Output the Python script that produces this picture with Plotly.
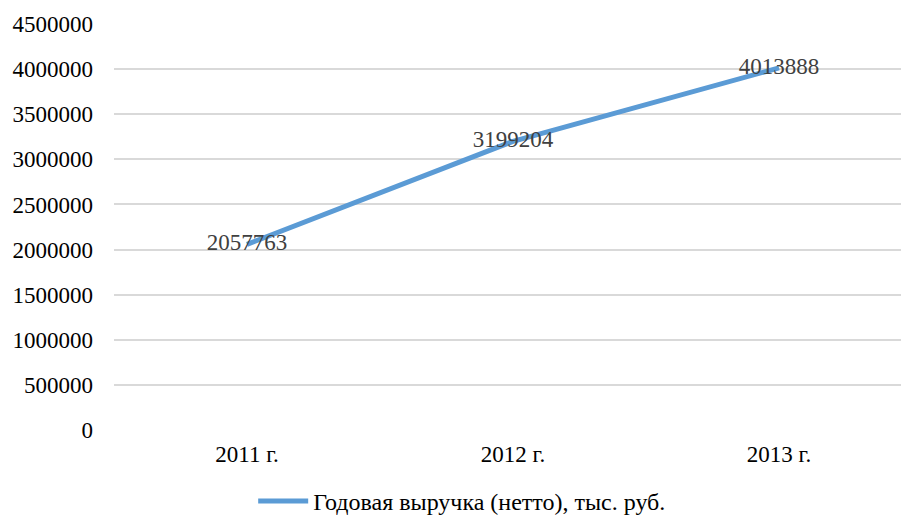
import plotly.graph_objects as go

categories = ["2011 г.", "2012 г.", "2013 г."]
values = [2057763, 3199204, 4013888]
series_name = "Годовая выручка (нетто), тыс. руб."
y_ticks = [0, 500000, 1000000, 1500000, 2000000, 2500000, 3000000, 3500000, 4000000, 4500000]

FONT = "Liberation Serif"
FS = 23

fig = go.Figure()
fig.add_trace(go.Scatter(
    x=categories, y=values, name=series_name,
    mode="lines+text",
    line=dict(color="#5B9BD5", width=5),
    text=[str(v) for v in values],
    textposition="middle center",
    textfont=dict(family=FONT, size=FS, color="#404040"),
    cliponaxis=False,
))

fig.update_layout(
    width=901, height=524,
    margin=dict(l=114, r=0, t=24, b=94),
    paper_bgcolor="white", plot_bgcolor="white",
    font=dict(family=FONT, size=FS, color="#000000"),
    showlegend=True,
    legend=dict(orientation="h", x=0.281, xanchor="left", xref="container",
                y=0.0, yanchor="bottom", yref="container",
                font=dict(family=FONT, size=24, color="#000000"),
                itemwidth=50),
    xaxis=dict(type="category", range=[-0.5, 2.5 - 11 / 265.5], showgrid=False,
               showline=False, zeroline=False, ticks="", ticklabelstandoff=8,
               automargin=False),
    yaxis=dict(range=[0, 4500000], tickvals=y_ticks, ticktext=[str(v) for v in y_ticks],
               showgrid=True, gridcolor="#D9D9D9", gridwidth=2, zeroline=False,
               showline=False, ticks="", ticklabelstandoff=20, automargin=False),
)

fig.write_html(
    "out.html",
    config={"displayModeBar": False},
    post_script="document.body.style.margin='0';document.documentElement.style.overflow='hidden';",
)
